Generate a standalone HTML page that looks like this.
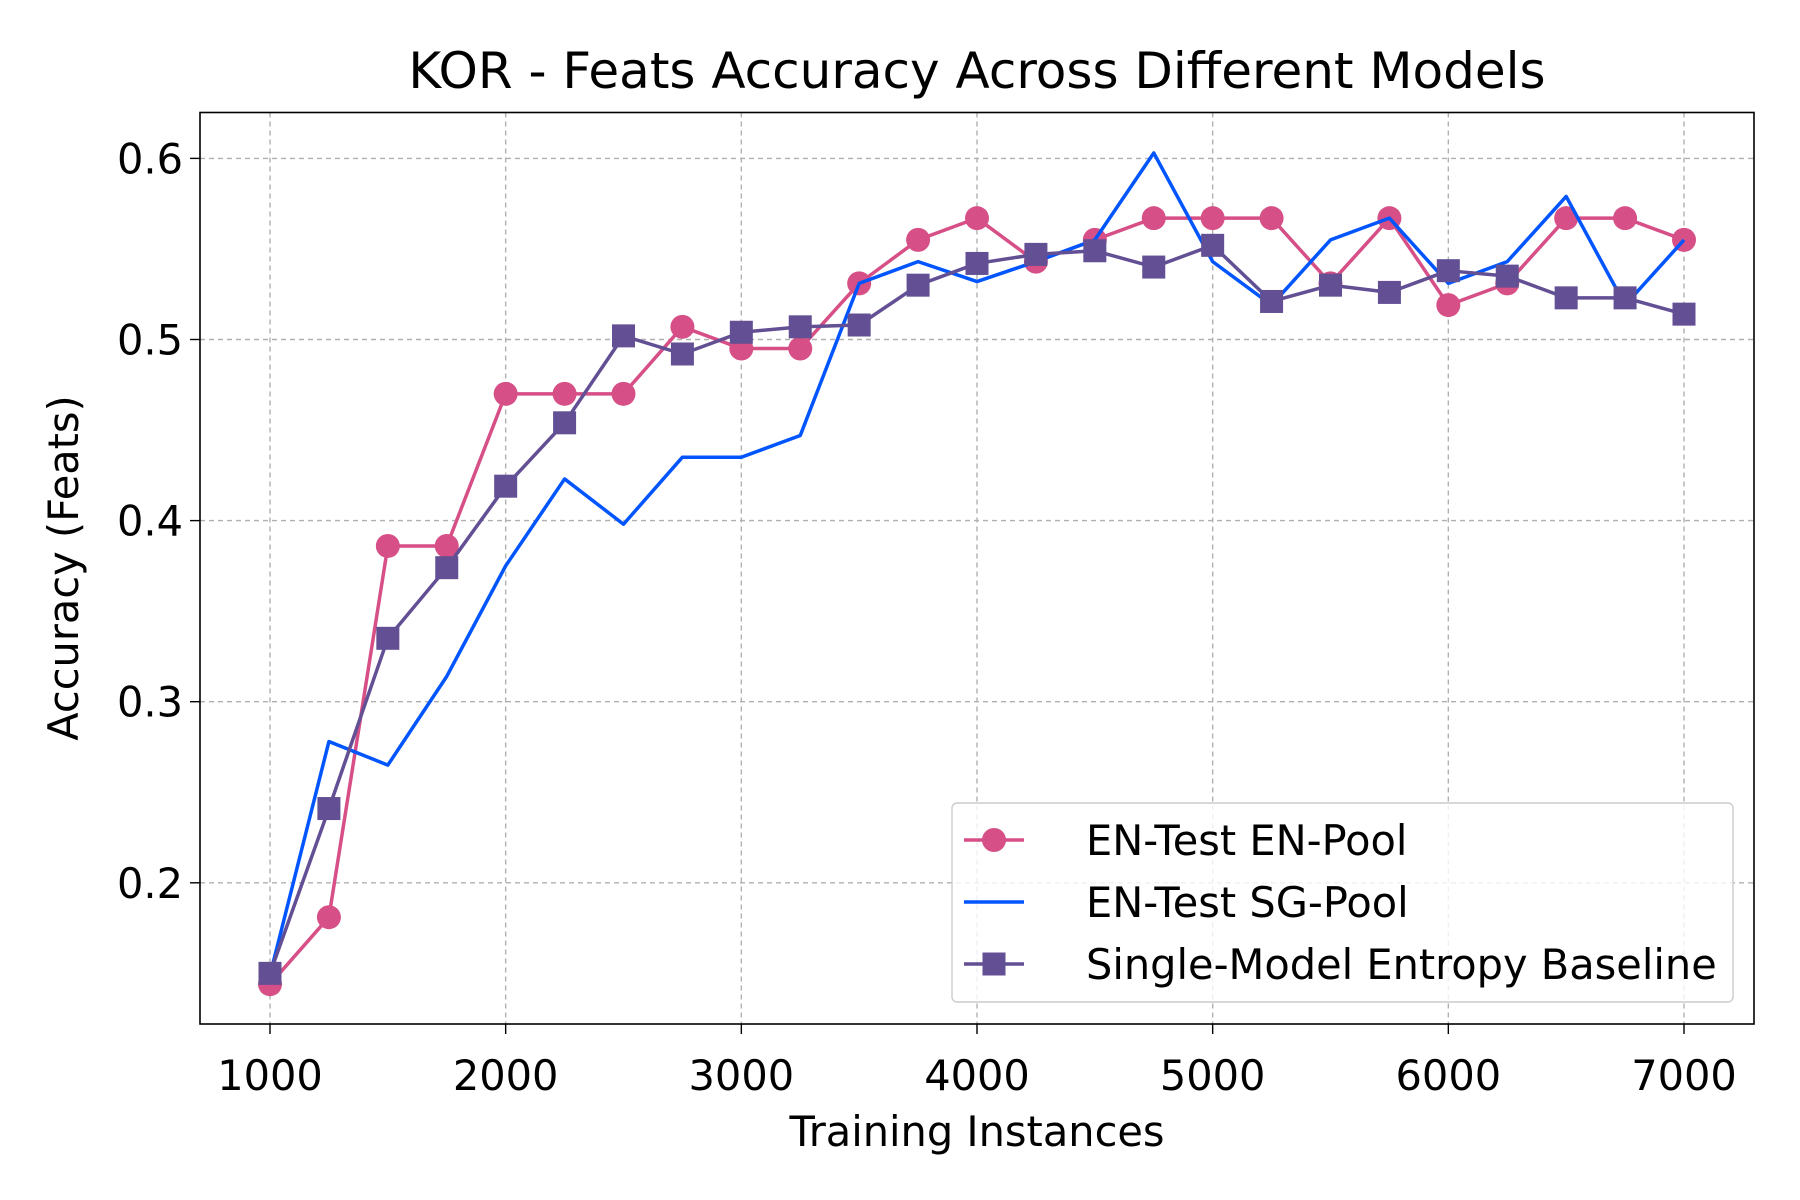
<!DOCTYPE html>
<html><head><meta charset="utf-8"><style>
html,body{margin:0;padding:0;background:#fff;}
svg{display:block;font-family:"DejaVu Sans","Liberation Sans",sans-serif;}
</style></head><body>
<svg id="chart" width="1800" height="1200" viewBox="0 0 1800 1200">
<rect x="0" y="0" width="1800" height="1200" fill="#fff"/>
<g id="grid"></g>
<g id="series"></g>
<rect x="200" y="112.5" width="1554" height="911.5" fill="none" stroke="#000" stroke-width="1.6"/>
<g id="ticks"></g>
<text x="977" y="88" text-anchor="middle" font-size="50">KOR - Feats Accuracy Across Different Models</text>
<text x="977" y="1146" text-anchor="middle" font-size="41.5">Training Instances</text>
<text x="0" y="0" transform="translate(78,568) rotate(-90)" text-anchor="middle" font-size="41.5">Accuracy (Feats)</text>
<g id="legend"></g>
</svg>
<script>
const xValues=[1000,1250,1500,1750,2000,2250,2500,2750,3000,3250,3500,3750,4000,4250,4500,4750,5000,5250,5500,5750,6000,6250,6500,6750,7000];
const enPool=[0.144,0.181,0.386,0.386,0.470,0.470,0.470,0.507,0.495,0.495,0.531,0.555,0.567,0.543,0.555,0.567,0.567,0.567,0.531,0.567,0.519,0.531,0.567,0.567,0.555];
const sgPool=[0.149,0.278,0.265,0.314,0.375,0.423,0.398,0.435,0.435,0.447,0.531,0.543,0.532,0.543,0.555,0.603,0.543,0.519,0.555,0.567,0.531,0.543,0.579,0.519,0.555];
const entropy=[0.150,0.241,0.335,0.374,0.419,0.454,0.502,0.492,0.504,0.507,0.508,0.530,0.542,0.547,0.549,0.540,0.552,0.521,0.530,0.526,0.538,0.535,0.523,0.523,0.514];
const xTicks=[1000,2000,3000,4000,5000,6000,7000];
const yTicks=[0.2,0.3,0.4,0.5,0.6];
const seriesNames=["EN-Test EN-Pool","EN-Test SG-Pool","Single-Model Entropy Baseline"];

const NS="http://www.w3.org/2000/svg";
function X(v){return 270+(v-1000)*(1684-270)/6000;}
function Y(v){return 882.8-(v-0.2)*(882.8-158.4)/0.4;}
function mk(tag,attrs,parent){const e=document.createElementNS(NS,tag);for(const k in attrs)e.setAttribute(k,attrs[k]);parent.appendChild(e);return e;}
const grid=document.getElementById('grid'),ticks=document.getElementById('ticks'),ser=document.getElementById('series'),leg=document.getElementById('legend');
xTicks.forEach(t=>{
  const g=mk('line',{x1:X(t),x2:X(t),y1:112.5,y2:1024,stroke:'#b0b0b0','stroke-width':1.4,'stroke-dasharray':'5,4'},grid);
  
  
  const tl=mk('line',{x1:X(t),x2:X(t),y1:1024,y2:1034,stroke:'#000','stroke-width':1.4},ticks);
  
  
  const tx=mk('text',{x:X(t),y:1090,'text-anchor':'middle','font-size':41.5},ticks);
  tx.textContent=t;
  
  
});
yTicks.forEach(t=>{
  const g=mk('line',{x1:200,x2:1754,y1:Y(t),y2:Y(t),stroke:'#b0b0b0','stroke-width':1.4,'stroke-dasharray':'5,4'},grid);
  
  
  const tl=mk('line',{x1:190,x2:200,y1:Y(t),y2:Y(t),stroke:'#000','stroke-width':1.4},ticks);
  
  
  const tx=mk('text',{x:183,y:Y(t)+15,'text-anchor':'end','font-size':41.5},ticks);
  tx.textContent=t.toFixed(1);
  
  
});
function drawSeries(vals,color,marker,name){
  const pts=vals.map((v,i)=>X(xValues[i])+','+Y(v)).join(' ');
  const pl=mk('polyline',{points:pts,fill:'none',stroke:color,'stroke-width':3.5,'stroke-linejoin':'round'},ser);
  
  
  if(!marker)return;
  vals.forEach((v,i)=>{
    let m;
    if(marker==='o')m=mk('circle',{cx:X(xValues[i]),cy:Y(v),r:12,fill:color},ser);
    else m=mk('rect',{x:X(xValues[i])-11.5,y:Y(v)-11.5,width:23,height:23,fill:color},ser);
    
    
  });
}
const cPink='#d64f86',cBlue='#0055ff',cPurple='#624f94';
drawSeries(enPool,cPink,'o','en-pool');
drawSeries(sgPool,cBlue,null,'sg-pool');
drawSeries(entropy,cPurple,'s','entropy-baseline');
const box=mk('rect',{x:952,y:803,width:781,height:199,rx:5,fill:'#fff','fill-opacity':0.8,stroke:'#ccc','stroke-width':1.4},leg);


const lc=[cPink,cBlue,cPurple],lm=['o',null,'s'],ly=[840,902,964];
seriesNames.forEach((n,i)=>{
  const l=mk('line',{x1:964,x2:1024,y1:ly[i],y2:ly[i],stroke:lc[i],'stroke-width':3.5},leg);
  
  
  if(lm[i]==='o'){const m=mk('circle',{cx:994,cy:ly[i],r:12,fill:lc[i]},leg);}
  if(lm[i]==='s'){const m=mk('rect',{x:982.5,y:ly[i]-11.5,width:23,height:23,fill:lc[i]},leg);}
  const t=mk('text',{x:1086,y:ly[i]+15,'font-size':41.5},leg);
  t.textContent=n;
  
  
});
</script>
</body></html>
